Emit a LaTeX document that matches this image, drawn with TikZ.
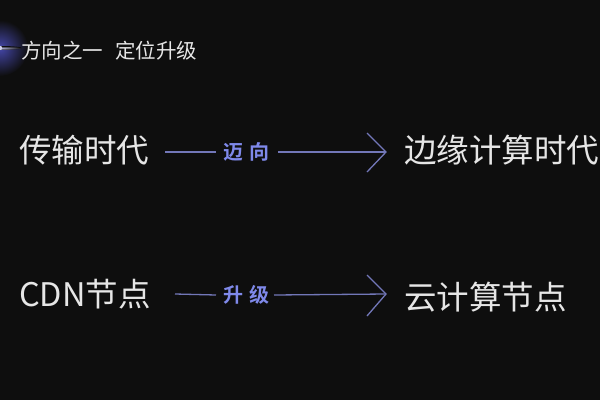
\documentclass[tikz,border=0pt]{standalone}
\usepackage{fontspec}
\newfontfamily\cjk{Noto Sans CJK SC}
\newfontfamily\cjkb{Noto Sans CJK SC Bold}
\definecolor{bg}{HTML}{0E0E0E}
\definecolor{txt}{HTML}{E6E6E6}
\definecolor{ln}{HTML}{7277B8}
\definecolor{lab}{HTML}{7F89EA}
\definecolor{glow}{HTML}{4446A8}
\tikzset{
  big/.style={font=\cjk\fontsize{32.5}{36}\selectfont, text=txt, inner sep=0pt, anchor=west},
  ttl/.style={font=\cjk\fontsize{20.5}{22}\selectfont, text=txt, inner sep=0pt, anchor=west},
  lbl/.style={font=\cjkb\fontsize{20}{22}\selectfont, text=lab, inner sep=0pt},
  conn/.style={draw=ln, line width=1.3pt},
}
\begin{document}
\begin{tikzpicture}[x=1pt,y=-1pt]
\fill[bg] (0,0) rectangle (600,400);
\useasboundingbox (0,0) rectangle (600,400);
\shade[inner color=glow, outer color=bg] (0,48) circle (28);
\shade[inner color=white!60!glow, outer color=bg] (0,48) ellipse (22 and 2);
\fill[white!75!glow] (0,48) circle (2.2);
\node[ttl] (title) at (21,51) {方向之一\hspace{0.6em}定位升级};
\node[big] (a1) at (19,150) {传输时代};
\node[big] (b1) at (404,150) {边缘计算时代};
\node[lbl] (l1) at (246,152) {迈\hspace{0.3em}向};
\coordinate (s1) at (165,152);
\coordinate (t1) at (386,152);
\draw[conn] (s1) -- (l1.west -| 216,0);
\draw[conn] (l1.east -| 278,0) -- (t1);
\draw[conn, line join=miter] (367,133) -- (t1) -- (367,172);
\node[big] (a2) at (19,294) {CDN节点};
\node[big] (b2) at (404,297) {云计算节点};
\node[lbl] (l2) at (246,295) {升\hspace{0.3em}级};
\coordinate (s2) at (175,294);
\coordinate (t2) at (386,294);
\draw[conn] (s2) -- (l2.west -| 216,0);
\draw[conn] (l2.east -| 274,0) -- (t2);
\draw[conn, line join=miter] (367,275) -- (t2) -- (367,316);
\end{tikzpicture}
\end{document}
